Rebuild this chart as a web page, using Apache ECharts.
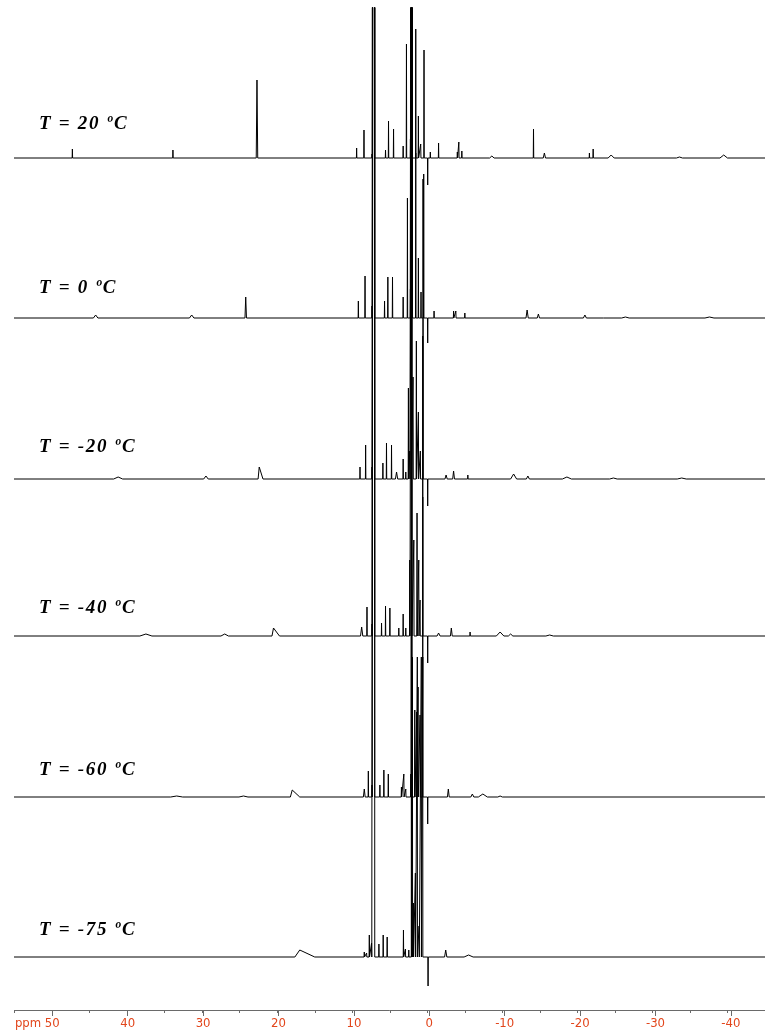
<!DOCTYPE html>
<html>
<head>
<meta charset="utf-8">
<script src="https://cdn.jsdelivr.net/npm/echarts@6/dist/echarts.min.js"></script>
<style>
html,body{margin:0;padding:0;background:#fff;}
#chart{width:765px;height:1036px;}
</style>
</head>
<body>
<div id="chart"></div>
<script>
// ---- DATA (ppm, intensity, optional half-width left/right in ppm) ----
const tempLabels = ['T = 20 ºC', 'T = 0 ºC', 'T = -20 ºC', 'T = -40 ºC', 'T = -60 ºC', 'T = -75 ºC'];
const axisTicks = [50, 40, 30, 20, 10, 0, -10, -20, -30, -40];

const peaks20 = [
  [47.3, 9], [33.9, 8], [22.7, 78, 0.1],
  [9.42, 10], [8.44, 28], [7.37, 4], [7.08, 3000, 0.075], [5.57, 8], [5.17, 37], [4.50, 29],
  [3.22, 12], [2.78, 114], [2.25, 19], [2.07, 1000, 0.015], [1.54, 129], [1.19, 42], [0.88, 14],
  [0.44, 108], [-0.05, -27], [-0.4, 6], [-1.5, 15], [-4.0, 6], [-4.2, 16], [-4.6, 7],
  [-8.6, 2, 0.3], [-14.15, 29], [-15.6, 5, 0.15], [-21.6, 5], [-22.1, 9], [-24.5, 3, 0.4],
  [-33.6, 1, 0.4], [-39.5, 3, 0.5]
];
const peaks0 = [
  [44.2, 3, 0.3], [31.4, 3, 0.3], [24.2, 21, 0.1],
  [9.19, 17], [8.3, 42], [7.37, 12], [7.08, 3000, 0.075], [5.7, 17], [5.26, 41], [4.64, 41],
  [3.22, 21], [2.65, 120], [2.25, 29], [2.1, 1000, 0.015], [1.99, 400, 0.015], [1.54, 165], [1.19, 60], [0.84, 26],
  [0.48, 144], [-0.05, -25], [-0.9, 7], [-3.5, 7], [-3.8, 7], [-5.0, 5], [-13.3, 8, 0.15],
  [-14.8, 4, 0.15], [-21.0, 3, 0.2], [-23.5, 1], [-26.4, 1, 0.5], [-37.6, 1, 0.6]
];
const peaksM20 = [
  [41.2, 2, 0.6], [29.5, 3, 0.3], [22.4, 12, 0.15, 0.5],
  [8.97, 12], [8.22, 34], [7.37, 12], [7.08, 3000, 0.075], [5.92, 16], [5.44, 36], [4.77, 34],
  [4.1, 7, 0.15], [3.22, 20], [2.87, 7], [2.52, 91], [2.34, 28], [2.12, 1000, 0.015], [1.9, 102],
  [1.46, 138], [1.19, 67], [0.93, 28], [0.57, 300, 0.015], [-0.05, -27], [-2.5, 4, 0.15],
  [-3.5, 8, 0.12], [-5.4, 4], [-11.5, 5, 0.4], [-13.4, 3, 0.2], [-18.6, 2, 0.6],
  [-24.8, 1, 0.5], [-33.9, 1, 0.6]
];
const peaksM40 = [
  [37.5, 2, 0.8], [27.0, 2, 0.5], [20.5, 8, 0.2, 0.8],
  [8.75, 9, 0.15], [8.04, 29], [7.37, 12], [7.08, 3000, 0.075], [6.1, 13], [5.57, 30], [4.99, 28],
  [3.8, 8], [3.22, 22], [2.87, 8], [2.34, 76], [2.07, 1000, 0.015], [1.8, 96], [1.37, 123],
  [1.14, 76], [0.97, 36], [0.61, 300, 0.015], [-0.05, -27], [-1.5, 3, 0.2], [-3.2, 8, 0.12],
  [-5.7, 4], [-9.7, 4, 0.5], [-11.1, 2, 0.3], [-16.3, 1, 0.5]
];
const peaksM60 = [
  [33.4, 1, 0.8], [24.5, 1, 0.6], [18.0, 7, 0.25, 1.0],
  [8.4, 8, 0.12], [7.86, 26], [7.37, 12], [7.08, 3000, 0.075], [6.32, 12], [5.79, 27], [5.2, 23],
  [3.45, 10], [3.13, 23], [2.87, 8], [2.2, 23], [2.03, 1000, 0.015], [1.67, 87], [1.41, 85],
  [1.23, 110], [0.97, 82], [0.61, 300, 0.015], [-0.05, -27], [-2.8, 8, 0.12], [-6.0, 3, 0.2],
  [-7.4, 3, 0.6], [-9.7, 1, 0.3]
];
const peaksM75 = [
  [17.0, 7, 0.65, 2.0],
  [8.4, 5], [8.09, 4], [7.73, 22], [7.43, 14], [7.08, 3000, 0.075], [6.45, 13], [5.88, 22],
  [5.35, 20], [3.18, 27], [2.92, 8], [2.47, 7], [2.12, 1000, 0.015], [1.98, 300, 0.015], [1.86, 54], [1.59, 84],
  [1.33, 300, 0.015], [1.1, 31], [0.8, 300, 0.015], [0.61, 300, 0.015], [-0.1, -29], [-2.45, 7, 0.15],
  [-5.5, 2, 0.6]
];
const spectra = [peaks20, peaks0, peaksM20, peaksM40, peaksM60, peaksM75];

// ---- LAYOUT ----
const X0 = 429.3, K = 7.54;           // px of 0 ppm, px per ppm
const plotTop = 8, plotBottom = 1010; // px
const baselinesPx = [158, 318, 479, 636, 797, 957];
const labelTopPx = [115, 279, 438, 599, 761, 921];

function buildTrace(peaks, base) {
  const sorted = peaks.slice().sort((a, b) => b[0] - a[0]);
  const pts = [[56, base]];
  sorted.forEach(pk => {
    const p = pk[0], h = pk[1];
    const wl = pk[2] != null ? pk[2] : 0.03;
    const wr = pk[3] != null ? pk[3] : wl;
    pts.push([p + wl, base], [p, base + h], [p - wr, base]);
  });
  pts.push([-46, base]);
  return pts;
}

const chart = echarts.init(document.getElementById('chart'), null, {renderer: 'canvas'});
const H = plotBottom - plotTop;

const series = spectra.map((pk, i) => ({
  type: 'line',
  xAxisIndex: 0, yAxisIndex: 0,
  data: buildTrace(pk, plotBottom - baselinesPx[i]),
  showSymbol: false,
  symbol: 'none',
  clip: true,
  lineStyle: {color: '#000', width: 1},
  silent: true,
  animation: false
}));

const axisFont = '"Liberation Sans Narrow", "DejaVu Sans Condensed", "Liberation Sans", sans-serif';
const labelFont = 'italic bold 19px "Liberation Serif", "Times New Roman", serif';

function spaced(t) {
  return Array.from(t).map(c => '{c|' + c + '}').join('');
}

chart.setOption({
  animation: false,
  backgroundColor: '#fff',
  grid: [
    {left: X0 - 55 * K, right: 765 - (X0 + 45 * K), top: plotTop, bottom: 1036 - plotBottom},
    {left: X0 - 50 * K, right: 765 - (X0 + 40 * K), top: plotBottom - 10, bottom: 1036 - plotBottom}
  ],
  xAxis: [
    {
      gridIndex: 0, type: 'value', inverse: true, min: -45, max: 55, interval: 5,
      axisLine: {show: true, lineStyle: {color: '#6a6a6a', width: 1}},
      axisTick: {show: true, length: 3, lineStyle: {color: '#6a6a6a'}},
      axisLabel: {show: false}, splitLine: {show: false}
    },
    {
      gridIndex: 1, type: 'value', inverse: true, min: -40, max: 50, interval: 10,
      axisLine: {show: false},
      axisTick: {show: true, length: 6, lineStyle: {color: '#6a6a6a'}},
      axisLabel: {
        show: true, margin: 7, color: '#e2461c',
        fontFamily: axisFont, fontSize: 13,
        formatter: v => (axisTicks.indexOf(v) < 0 ? '' : (v === 50 ? '{p|ppm }' + v + '{h|ppm }' : String(v))),
        rich: {
          p: {color: '#e2461c', fontSize: 13, fontFamily: axisFont},
          h: {color: 'rgba(0,0,0,0)', fontSize: 13, fontFamily: axisFont}
        }
      },
      splitLine: {show: false}
    }
  ],
  yAxis: [
    {gridIndex: 0, type: 'value', min: 0, max: H, show: false},
    {gridIndex: 1, type: 'value', min: 0, max: 1, show: false}
  ],
  series: series,
  graphic: tempLabels.map((t, i) => ({
    type: 'text', left: 39, top: labelTopPx[i], silent: true,
    style: {
      text: spaced(t), font: labelFont, fill: '#000',
      rich: {c: {font: labelFont, fill: '#000', padding: [0, 1.7, 0, 0]}}
    }
  }))
});
</script>
</body>
</html>
